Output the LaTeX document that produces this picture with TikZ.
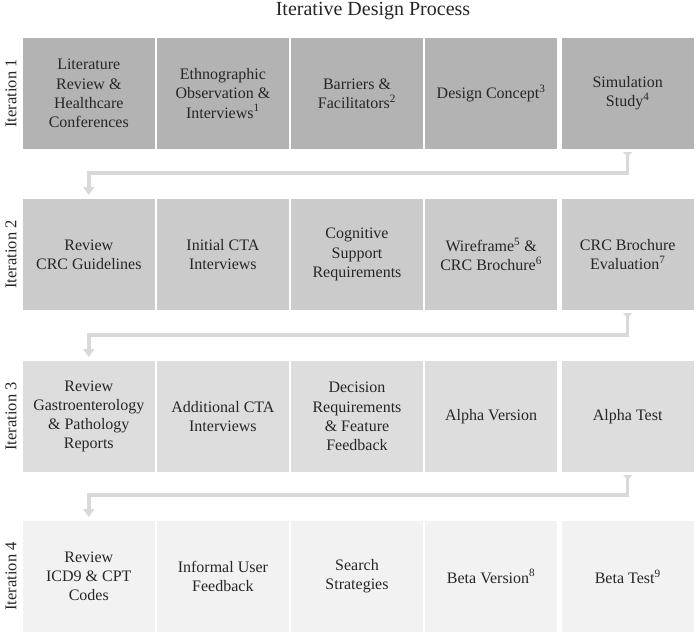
\documentclass[tikz,border=0pt]{standalone}
\usepackage{fontspec}
\setmainfont{Liberation Serif}
\usetikzlibrary{positioning}
\usetikzlibrary{arrows.meta}

\definecolor{iterone}{HTML}{B3B3B3}
\definecolor{itertwo}{HTML}{CBCBCB}
\definecolor{iterthree}{HTML}{DDDDDD}
\definecolor{iterfour}{HTML}{F2F2F2}
\definecolor{loopgray}{HTML}{D9D9D9}
\definecolor{textgray}{HTML}{262626}

\begin{document}
\begin{tikzpicture}[x=1pt,y=-1pt,
                    stagebox/.style={rectangle,
                                     inner sep=0mm,outer sep=0,
                                     minimum width=131.6pt,
                                     minimum height=111pt,
                                     align=center,
                                     text=textgray,
                                     font=\fontsize{16}{19.2}\selectfont
                                    },
                    iterlabel/.style={rotate=90,
                                      text=textgray,
                                      font=\fontsize{16.5}{19}\selectfont
                                     },
                    loopconnection/.style={
                                     line width=3.5pt,
                                     draw=loopgray,
                                     {Triangle[reversed,width=9pt,length=5pt]}-{Triangle[width=11pt,length=8pt]},
                                     shorten <=3pt,
                                     shorten >=4pt
                                     }
                   ]
\useasboundingbox (0,0) rectangle (696,633);

\node[text=textgray,font=\fontsize{20}{24}\selectfont] (title) at (373,11) {Iterative Design Process};

\node[stagebox,fill=iterone] (it1a) at (88.8,93.5) {Literature\\Review \&\\Healthcare\\Conferences};
\node[stagebox,fill=iterone,right=2.5pt of it1a] (it1b) {Ethnographic\\Observation \&\\Interviews\textsuperscript{1}};
\node[stagebox,fill=iterone,right=2.5pt of it1b] (it1c) {Barriers \&\\Facilitators\textsuperscript{2}};
\node[stagebox,fill=iterone,right=2.5pt of it1c] (it1d) {Design Concept\textsuperscript{3}};
\node[stagebox,fill=iterone,right=5pt of it1d] (it1e) {Simulation\\Study\textsuperscript{4}};
\node[iterlabel] (lab1) at (11,93.5) {Iteration 1};

\node[stagebox,fill=itertwo,below=50pt of it1a] (it2a) {Review\\CRC Guidelines};
\node[stagebox,fill=itertwo,right=2.5pt of it2a] (it2b) {Initial CTA\\Interviews};
\node[stagebox,fill=itertwo,right=2.5pt of it2b] (it2c) {Cognitive\\Support\\Requirements};
\node[stagebox,fill=itertwo,right=2.5pt of it2c] (it2d) {Wireframe\textsuperscript{5} \&\\CRC Brochure\textsuperscript{6}};
\node[stagebox,fill=itertwo,right=5pt of it2d] (it2e) {CRC Brochure\\Evaluation\textsuperscript{7}};
\node[iterlabel] (lab2) at (11,254.5) {Iteration 2};

\node[stagebox,fill=iterthree,below=51pt of it2a] (it3a) {Review\\Gastroenterology\\\& Pathology\\Reports};
\node[stagebox,fill=iterthree,right=2.5pt of it3a] (it3b) {Additional CTA\\Interviews};
\node[stagebox,fill=iterthree,right=2.5pt of it3b] (it3c) {Decision\\Requirements\\\& Feature\\Feedback};
\node[stagebox,fill=iterthree,right=2.5pt of it3c] (it3d) {Alpha Version};
\node[stagebox,fill=iterthree,right=5pt of it3d] (it3e) {Alpha Test};
\node[iterlabel] (lab3) at (11,416.5) {Iteration 3};

\node[stagebox,fill=iterfour,below=49pt of it3a] (it4a) {Review\\ICD9 \& CPT\\Codes};
\node[stagebox,fill=iterfour,right=2.5pt of it4a] (it4b) {Informal User\\Feedback};
\node[stagebox,fill=iterfour,right=2.5pt of it4b] (it4c) {Search\\Strategies};
\node[stagebox,fill=iterfour,right=2.5pt of it4c] (it4d) {Beta Version\textsuperscript{8}};
\node[stagebox,fill=iterfour,right=5pt of it4d] (it4e) {Beta Test\textsuperscript{9}};
\node[iterlabel] (lab4) at (11,576.5) {Iteration 4};

\draw[loopconnection] (it1e.south) -- ++(0,24) -| (it2a.north);
\draw[loopconnection] (it2e.south) -- ++(0,25) -| (it3a.north);
\draw[loopconnection] (it3e.south) -- ++(0,23) -| (it4a.north);
\end{tikzpicture}
\end{document}
